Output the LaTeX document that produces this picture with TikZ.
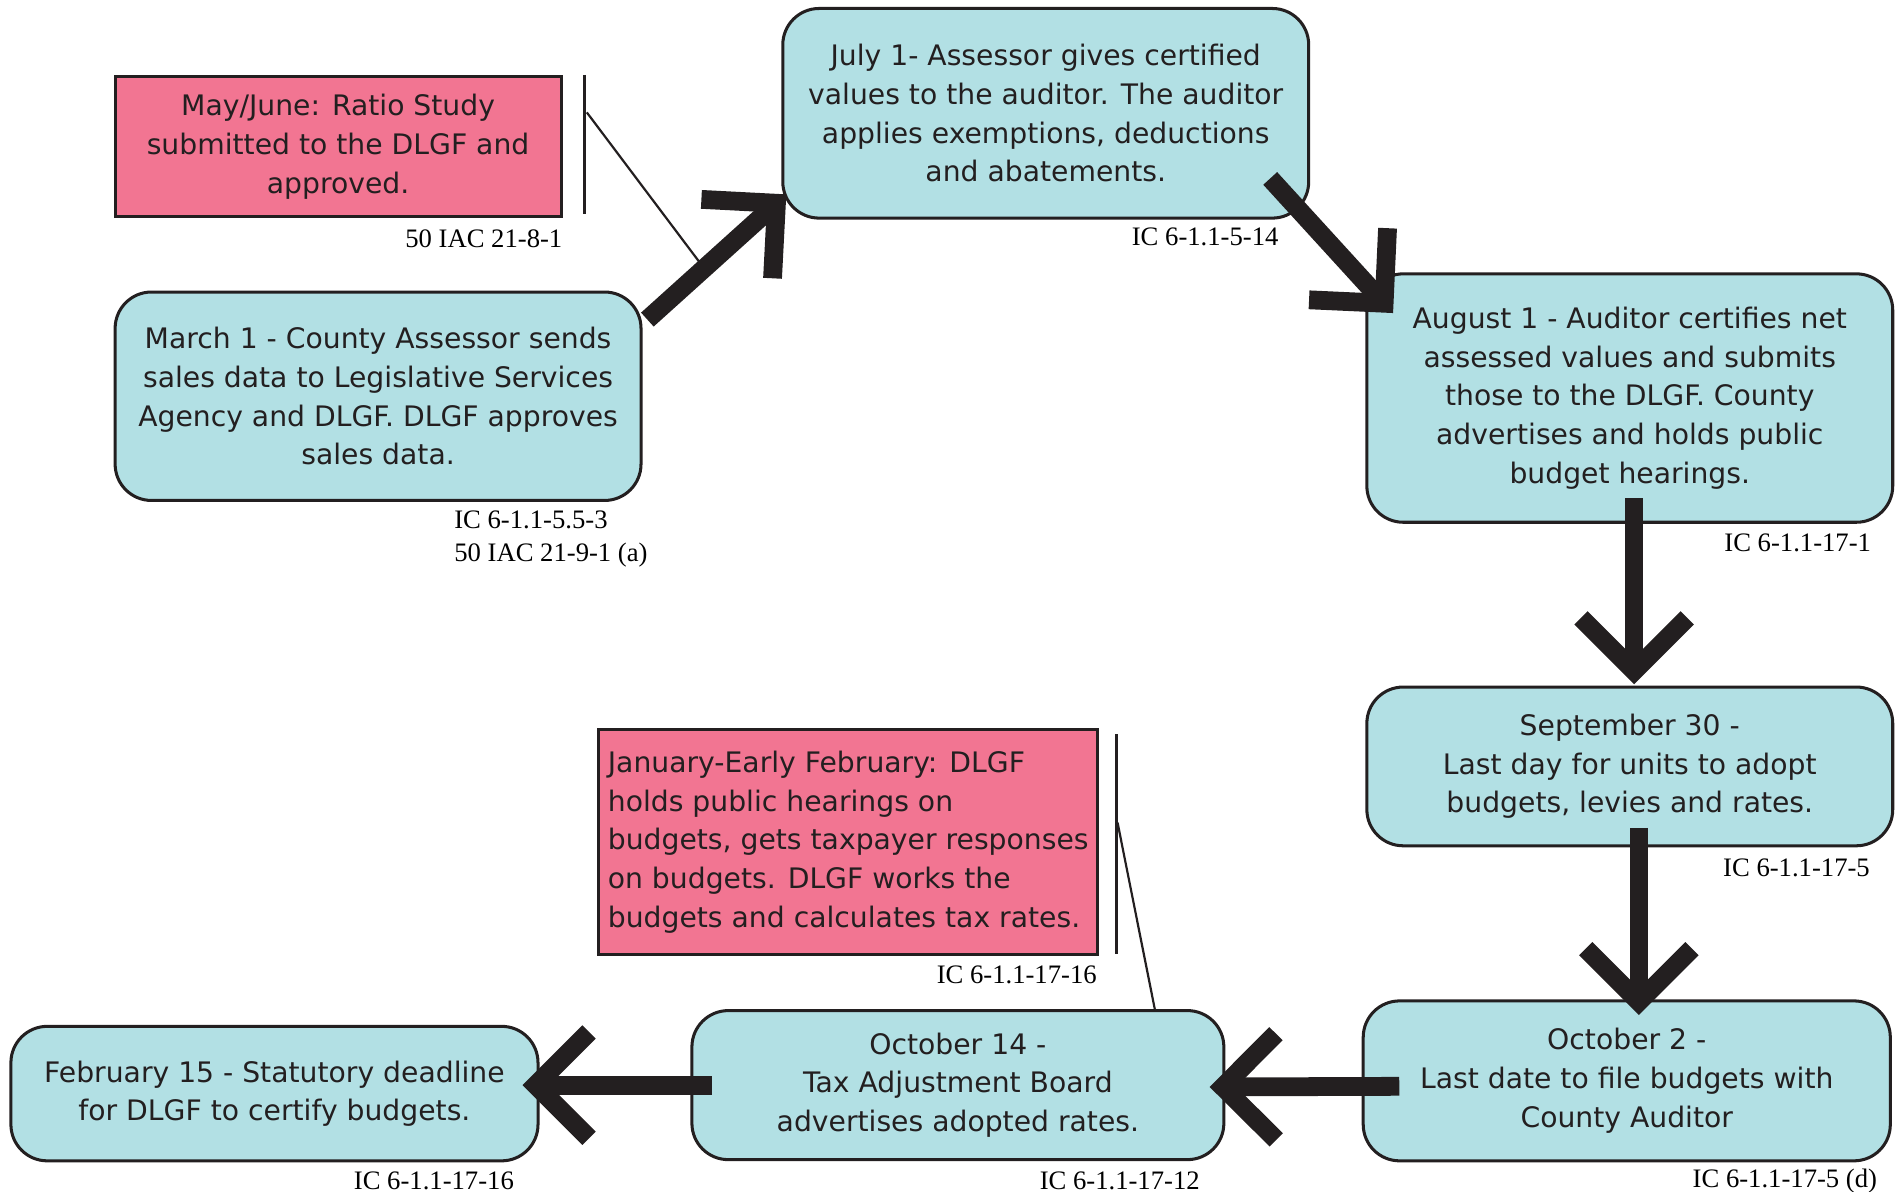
\documentclass[tikz,border=0pt]{standalone}
\usepackage{fontspec}
\setmainfont{DejaVu Sans}
\newfontfamily\citefont{Liberation Serif}
\usetikzlibrary{calc}
\definecolor{boxcyan}{RGB}{178,224,228}
\definecolor{boxpink}{RGB}{242,117,146}
\definecolor{ink}{RGB}{35,31,32}
\tikzset{
  stepbox/.style={draw=ink, line width=2.5pt, fill=boxcyan, rounded corners=30pt,
    align=center, inner sep=0pt, text=ink, font=\fontsize{23.3}{32}\selectfont},
  notebox/.style={draw=ink, line width=2.5pt, fill=boxpink, inner sep=0pt,
    text=ink, font=\fontsize{23.3}{32}\selectfont},
  cite/.style={inner sep=0pt, text=black, font=\citefont\fontsize{22}{26}\selectfont},
  fatline/.style={draw=ink, line width=15.5pt, line cap=butt, line join=miter},
  leader/.style={draw=ink, line width=1.8pt},
  bracket/.style={draw=ink, line width=2.5pt},
}
\newcommand\fatarrow[2]{%
  \draw[fatline] (#1) -- (#2);
  \draw[fatline] ($(#2)!62pt!45:(#1)$) -- (#2) -- ($(#2)!62pt!-45:(#1)$);
}
\begin{document}
\begin{tikzpicture}[x=1pt,y=-1pt]
\useasboundingbox (0,0) rectangle (1568,983.7);

% note boxes
\node[notebox, minimum width=368pt, minimum height=116pt, align=center] (may) at (279,121)
  {May/June: Ratio Study\\submitted to the DLGF and\\approved.};
\node[notebox, minimum width=412pt, minimum height=186pt, align=left] (jan) at (700,695)
  {January-Early February: DLGF\\holds public hearings on\\budgets, gets taxpayer responses\\on budgets. DLGF works the\\budgets and calculates tax rates.};

% step boxes
\node[stepbox, minimum width=434pt, minimum height=172pt] (march) at (312,327)
  {March 1 - County Assessor sends\\sales data to Legislative Services\\Agency and DLGF. DLGF approves\\sales data.};
\node[stepbox, minimum width=434pt, minimum height=173pt] (july) at (863,93.5)
  {July 1- Assessor gives certified\\values to the auditor. The auditor\\applies exemptions, deductions\\and abatements.};
\node[stepbox, minimum width=434pt, minimum height=205pt] (august) at (1345,328.5)
  {August 1 - Auditor certifies net\\assessed values and submits\\those to the DLGF. County\\advertises and holds public\\budget hearings.};
\node[stepbox, minimum width=434pt, minimum height=131pt] (sept) at (1345,632.5)
  {September 30 -\\Last day for units to adopt\\budgets, levies and rates.};
\node[stepbox, minimum width=435pt, minimum height=132pt] (octtwo) at (1342.5,892)
  {October 2 -\\Last date to file budgets with\\County Auditor};
\node[stepbox, minimum width=439pt, minimum height=123pt] (octfourteen) at (790.5,895.5)
  {October 14 -\\Tax Adjustment Board\\advertises adopted rates.};
\node[stepbox, minimum width=435pt, minimum height=111pt] (feb) at (226.5,902.5)
  {February 15 - Statutory deadline\\for DLGF to certify budgets.};

% citations
\node[cite, anchor=base east] (c1) at ($(may.south east)+(0,24)$) {50 IAC 21-8-1};
\node[cite, anchor=base west] (c2) at ($(march.south west)+(281,22)$) {IC 6-1.1-5.5-3};
\node[cite, anchor=base west] (c3) at ($(march.south west)+(281,49)$) {50 IAC 21-9-1 (a)};
\node[cite, anchor=base east] (c4) at ($(july.south east)+(-26,21)$) {IC 6-1.1-5-14};
\node[cite, anchor=base east] (c5) at ($(august.south east)+(-19,23)$) {IC 6-1.1-17-1};
\node[cite, anchor=base east] (c6) at ($(sept.south east)+(-20,24)$) {IC 6-1.1-17-5};
\node[cite, anchor=base east] (c7) at ($(octtwo.south east)+(-12,21)$) {IC 6-1.1-17-5 (d)};
\node[cite, anchor=base east] (c8) at ($(octfourteen.south east)+(-21,23)$) {IC 6-1.1-17-12};
\node[cite, anchor=base east] (c9) at ($(feb.south east)+(-21,22)$) {IC 6-1.1-17-16};
\node[cite, anchor=base east] (c10) at ($(jan.south east)+(-2,22)$) {IC 6-1.1-17-16};

% arrow end points
\coordinate (a1s) at ($(march.north east)+(4,24)$);
\coordinate (a1t) at ($(july.south west)+(-4,-13.5)$);
\coordinate (a2s) at ($(july.south east)+(-33,-34)$);
\coordinate (a2t) at ($(august.north west)+(15.5,25.5)$);
\coordinate (a3s) at ($(august.south)+(3.5,-21)$);
\coordinate (a3t) at ($(sept.north)+(3.5,-12)$);
\coordinate (a4s) at ($(sept.south)+(7.5,-16)$);
\coordinate (a4t) at ($(octtwo.north)+(10,2)$);
\coordinate (a5s) at ($(octtwo.west)+(31,4.5)$);
\coordinate (a5t) at ($(octfourteen.east)+(-2,1.5)$);
\coordinate (a6s) at ($(octfourteen.west)+(17.5,0)$);
\coordinate (a6t) at ($(feb.east)+(-3,-7)$);

% note brackets and leaders
\coordinate (mayTop) at ($(may.north east)+(18,0)$);
\coordinate (mayBot) at ($(may.south east)+(18,-4)$);
\coordinate (mayLead) at ($(may.north east)+(20,31)$);
\coordinate (mayEnd) at ($(a1s)!0.44!(a1t)$);
\draw[bracket] (mayTop) -- (mayBot);
\draw[leader] (mayLead) -- (mayEnd);
\coordinate (janTop) at ($(jan.north east)+(14,5)$);
\coordinate (janBot) at ($(jan.south east)+(14,-2)$);
\coordinate (janLead) at ($(jan.north east)+(15,78)$);
\coordinate (janEnd) at ($(octfourteen.north)+(162.5,0)$);
\draw[bracket] (janTop) -- (janBot);
\draw[leader] (janLead) -- (janEnd);

% fat arrows
\fatarrow{a1s}{a1t}
\fatarrow{a2s}{a2t}
\fatarrow{a3s}{a3t}
\fatarrow{a4s}{a4t}
\fatarrow{a5s}{a5t}
\fatarrow{a6s}{a6t}
\end{tikzpicture}
\end{document}
